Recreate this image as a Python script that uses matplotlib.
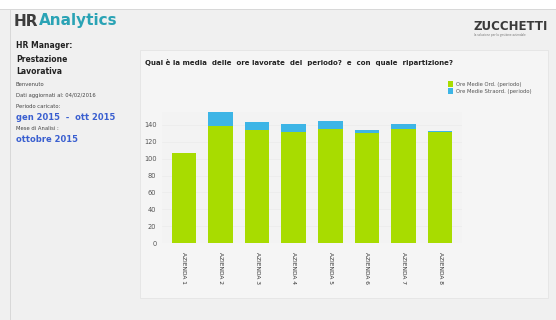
import numpy as np
import matplotlib.pyplot as plt
from matplotlib.patches import Rectangle

aziende = ['AZIENDA 1', 'AZIENDA 2', 'AZIENDA 3', 'AZIENDA 4',
           'AZIENDA 5', 'AZIENDA 6', 'AZIENDA 7', 'AZIENDA 8']
ore_ord = [107, 139, 134, 131, 135, 130.5, 135, 131.5]
ore_straord = [0, 16, 9, 9.5, 9.5, 3, 6, 1]
yticks = [0, 20, 40, 60, 80, 100, 120, 140]

green = '#a8dc00'
blue = '#3db5e6'
W, H = 556, 320

fig = plt.figure(figsize=(W / 100, H / 100), dpi=100, facecolor='#f0f0f0')

# background pieces in pixel coords, under the axes
def px_rect(x0, y0, x1, y1, **kw):
    fig.patches.append(Rectangle((x0 / W, 1 - y1 / H), (x1 - x0) / W, (y1 - y0) / H,
                                 transform=fig.transFigure, zorder=-5, **kw))

px_rect(0, 0, W, 9, facecolor='white', edgecolor='none')
px_rect(0, 9, W, 9.6, facecolor='#d8d8d8', edgecolor='none')
px_rect(10, 9, 10.7, H, facecolor='#d8d8d8', edgecolor='none')
px_rect(140, 50, 548, 298, facecolor='#f5f5f5', edgecolor='#e4e4e4', lw=0.6)

def txt(x, y, s, **kw):
    fig.text(x / W, 1 - y / H, s, va='center', ha='left', **kw)

# header
txt(14, 21, 'HR', fontsize=11, fontweight='bold', color='#3c3c3c')
txt(39, 21, 'Analytics', fontsize=11, fontweight='bold', color='#2aa3b5')
txt(474, 27, 'ZUCCHETTI', fontsize=8.5, fontweight='bold', color='#3a3a3a')
txt(474, 35, 'la soluzione per la gestione aziendale', fontsize=2, color='#777777')

# left panel
txt(16, 46, 'HR Manager:', fontsize=5.5, fontweight='bold', color='#222222')
txt(16, 59, 'Prestazione', fontsize=5.5, fontweight='bold', color='#222222')
txt(16, 72, 'Lavorativa', fontsize=5.5, fontweight='bold', color='#222222')
txt(16, 85, 'Benvenuto', fontsize=3.8, color='#444444')
txt(16, 95, 'Dati aggiornati al: 04/02/2016', fontsize=3.8, color='#444444')
txt(16, 106, 'Periodo caricato:', fontsize=3.8, color='#444444')
txt(16, 117, 'gen 2015  -  ott 2015', fontsize=6, fontweight='bold', color='#3a5fd0')
txt(16, 128, 'Mese di Analisi :', fontsize=3.8, color='#444444')
txt(16, 139, 'ottobre 2015', fontsize=6, fontweight='bold', color='#3a5fd0')

# chart title
txt(145, 62, 'Qual è la media  delle  ore lavorate  del  periodo?  e  con  quale  ripartizione?',
    fontsize=5, fontweight='bold', color='#222222')

ax = fig.add_axes([162 / W, 1 - 243.3 / H, (462 - 162) / W, (243.3 - 112) / H])
ax.set_facecolor('#f3f3f3')
x = np.arange(len(aziende))
b1 = ax.bar(x, ore_ord, width=0.67, color=green, label='Ore Medie Ord. (periodo)', zorder=2)
b2 = ax.bar(x, ore_straord, width=0.67, bottom=ore_ord, color=blue,
            label='Ore Medie Straord. (periodo)', zorder=2)
ax.set_xlim(-0.6, 7.6)
ax.set_ylim(0, 155)
ax.set_yticks(yticks)
ax.set_xticks(x)
ax.set_xticklabels(aziende, rotation=-90, fontsize=4.2, color='#333333')
ax.tick_params(axis='y', labelsize=4.8, labelcolor='#555555', length=0, pad=4)
ax.tick_params(axis='x', length=0, pad=6)
ax.grid(axis='y', color='#ebebeb', lw=0.5, zorder=0)
for s in ax.spines.values():
    s.set_visible(False)
ax.axhline(0, color='#e0e0e0', lw=0.6, zorder=1)

fig.legend(handles=[b1, b2], loc='upper left', bbox_to_anchor=(446 / W, 1 - 79 / H),
           fontsize=3.8, frameon=False, handlelength=0.9, handleheight=1.4,
           handletextpad=0.5, labelspacing=0.15, borderaxespad=0, labelcolor='#555555')

fig.savefig('out.png', dpi=100, facecolor=fig.get_facecolor())
